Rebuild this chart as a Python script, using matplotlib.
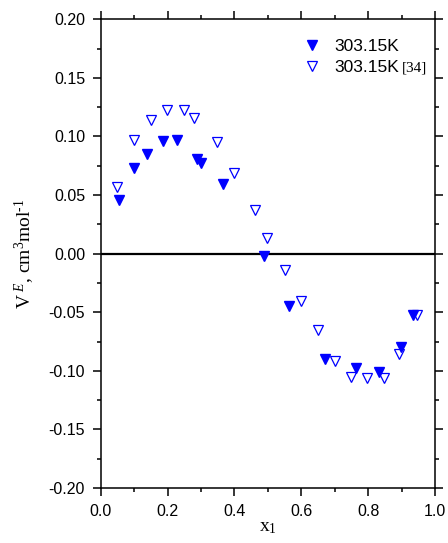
import matplotlib
matplotlib.use("Agg")
import matplotlib.pyplot as plt
from matplotlib.ticker import MultipleLocator, FormatStrFormatter

# Excess molar volume, this work (303.15 K)
x_work = [0.056, 0.100, 0.139, 0.185, 0.229, 0.287, 0.301, 0.367, 0.488,
          0.564, 0.671, 0.764, 0.831, 0.899, 0.935]
v_work = [0.046, 0.073, 0.085, 0.096, 0.097, 0.081, 0.077, 0.059, -0.002,
          -0.045, -0.090, -0.098, -0.101, -0.080, -0.052]

# Literature values [34] (303.15 K)
x_lit = [0.048, 0.100, 0.150, 0.199, 0.249, 0.279, 0.347, 0.399, 0.461,
         0.498, 0.551, 0.598, 0.650, 0.700, 0.748, 0.797, 0.847, 0.893, 0.947]
v_lit = [0.057, 0.097, 0.114, 0.123, 0.123, 0.116, 0.095, 0.069, 0.037,
         0.013, -0.014, -0.040, -0.065, -0.092, -0.105, -0.106, -0.106,
         -0.086, -0.052]

sans = "Liberation Sans"
serif = "Liberation Serif"
blue = "#0000ff"

plt.rcParams["mathtext.fontset"] = "custom"
plt.rcParams["mathtext.rm"] = serif
plt.rcParams["mathtext.it"] = serif + ":italic"

fig = plt.figure(figsize=(4.48, 5.43), dpi=100)
ax = fig.add_axes([0.2248, 0.1013, 0.7462, 0.8632])

ax.axhline(0.0, color="black", lw=1.6, zorder=1)

ax.plot(x_work, v_work, linestyle="none", marker="v", ms=7.6,
        color=blue, mec=blue, label="303.15K", zorder=3)
ax.plot(x_lit, v_lit, linestyle="none", marker="v", ms=7.6,
        mfc="white", mec=blue, mew=0.9, label="303.15K", zorder=2)

ax.set_xlim(0.0, 1.0)
ax.set_ylim(-0.20, 0.20)
ax.xaxis.set_major_locator(MultipleLocator(0.2))
ax.xaxis.set_minor_locator(MultipleLocator(0.1))
ax.yaxis.set_major_locator(MultipleLocator(0.05))
ax.yaxis.set_minor_locator(MultipleLocator(0.025))
ax.xaxis.set_major_formatter(FormatStrFormatter("%.1f"))
ax.yaxis.set_major_formatter(FormatStrFormatter("%.2f"))

for s in ax.spines.values():
    s.set_linewidth(1.1)
ax.tick_params(which="both", direction="out", top=True, right=True,
               width=1.1, labelsize=11.5)
ax.tick_params(which="major", length=5.8, pad=5.5)
ax.tick_params(which="minor", length=2.9)
for lab in ax.get_xticklabels() + ax.get_yticklabels():
    lab.set_fontfamily(sans)

ax.set_xlabel(r"x$_{\mathregular{1}}$", fontfamily=serif, fontsize=14,
              labelpad=0)
ax.set_ylabel(r"V$^{\mathit{\ E}}$, cm$^{\mathregular{3}}$mol$^{\mathregular{\text{-}1}}$",
              fontfamily=serif, fontsize=14, labelpad=8)

leg = ax.legend(loc="upper left", bbox_to_anchor=(0.575, 0.98), frameon=False,
                prop={"family": sans, "size": 12.5}, handlelength=1.0,
                handletextpad=0.8, labelspacing=0.32, borderaxespad=0.2)

# Reference tag after the second legend entry
fig.canvas.draw()
t2 = leg.get_texts()[1]
bb = t2.get_window_extent()
fx, fy = fig.transFigure.inverted().transform((bb.x1 + 3, bb.y0 + bb.height * 0.45))
fig.text(fx, fy, "[34]", fontfamily=serif, fontsize=11, va="center", ha="left")

fig.savefig("out.png", dpi=100)
